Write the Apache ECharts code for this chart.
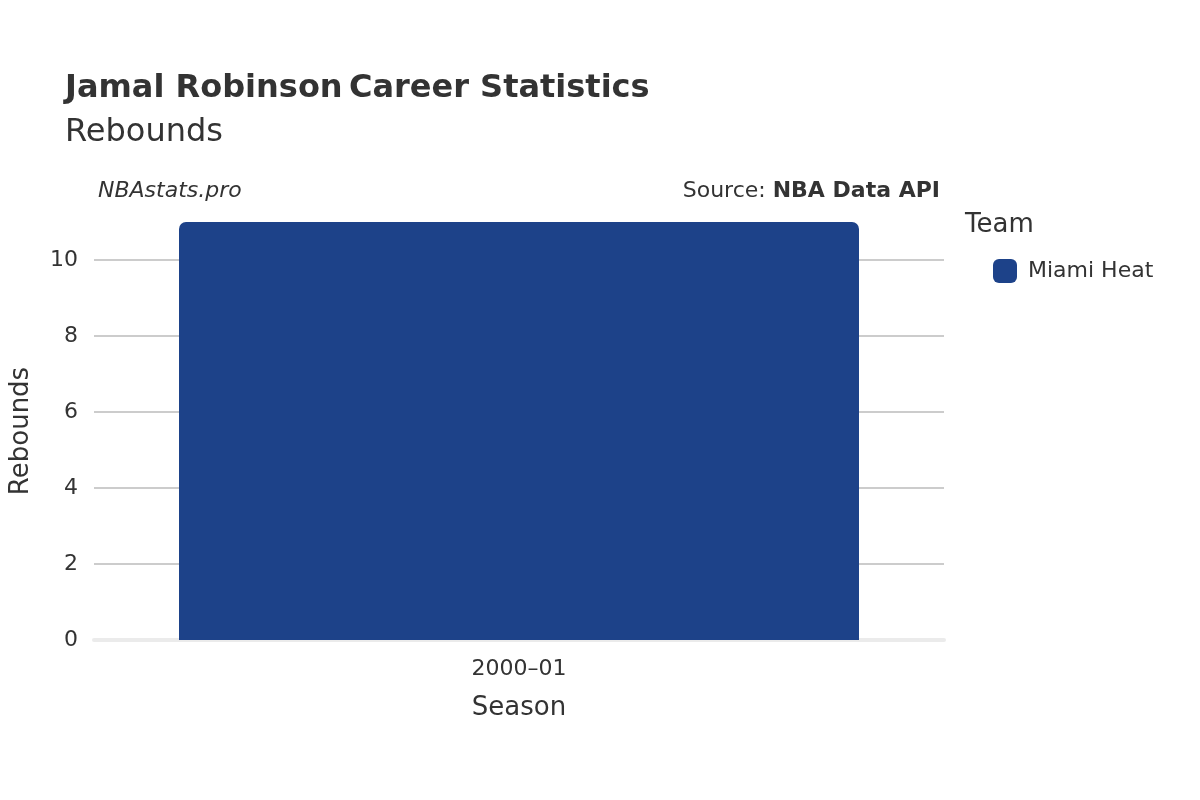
<!DOCTYPE html>
<html><head><meta charset="utf-8">
<script src="https://cdn.jsdelivr.net/npm/echarts@6/dist/echarts.min.js"></script>
<style>html,body{margin:0;padding:0}#c{width:1200px;height:800px}</style>
</head><body><div id="c"></div>
<script>
const seasons = ['2000–01'];
const rebounds = [11];
const teamName = 'Miami Heat';
const yTicks = [0, 2, 4, 6, 8, 10];

const chart = echarts.init(document.getElementById('c'));
const F = '"DejaVu Sans", sans-serif';
chart.setOption({
  animation: false,
  textStyle: { fontFamily: F },
  title: [
    { left: 60, top: 68, text: '{b|Jamal Robinson} {n|Career Statistics}',
      textStyle: { rich: { b: { fontSize: 32, fontWeight: 'bold', color: '#333', fontFamily: F }, n: { fontSize: 32, color: '#333', fontFamily: F } } } },
    { left: 60, top: 112, text: 'Rebounds', textStyle: { fontSize: 32, fontWeight: 'normal', color: '#333', fontFamily: F } }
  ],
  graphic: [
    { type: 'text', left: 98, top: 180, style: { text: 'NBAstats.pro', font: 'italic 22px ' + F, fill: '#333' } },
    { type: 'text', right: 260, top: 180, style: { text: '{a|Source: }{b|NBA Data API}', rich: { a: { font: '22px ' + F, fill: '#333' }, b: { font: 'bold 22px ' + F, fill: '#333' } } } },
    { type: 'text', left: 965, top: 212, style: { text: 'Team', font: '26px ' + F, fill: '#333' } }
  ],
  legend: { left: 988, top: 254, itemWidth: 24, itemHeight: 24, itemGap: 10, icon: 'roundRect',
    textStyle: { fontSize: 22, color: '#333', padding: [0, 0, 0, 6] }, data: [teamName] },
  grid: { left: 92, right: 256, top: 222, bottom: 160 },
  xAxis: { type: 'category', data: seasons, name: 'Season', nameLocation: 'middle', nameGap: 55,
    nameTextStyle: { fontSize: 26, color: '#333' },
    axisLine: { show: true, lineStyle: { color: '#ebebeb', width: 4 } }, axisTick: { show: false },
    axisLabel: { fontSize: 22, color: '#333', margin: 18 } },
  yAxis: { type: 'value', min: 0, max: 11, interval: 2, name: 'Rebounds', nameLocation: 'middle', nameGap: 60,
    nameTextStyle: { fontSize: 26, color: '#333' },
    axisLabel: { fontSize: 22, color: '#333', margin: 16, showMaxLabel: false,
      formatter: v => yTicks.includes(v) ? String(v) : '' },
    splitLine: { lineStyle: { color: ['#bbb', '#bbb', '#bbb', '#bbb', '#bbb', '#bbb', 'rgba(0,0,0,0)'], width: 1.5 } } },
  series: [{ name: teamName, type: 'bar', data: rebounds, barWidth: '80%', z: 3,
    itemStyle: { color: '#1d4289', borderRadius: [7, 7, 0, 0] } }]
});
</script></body></html>
